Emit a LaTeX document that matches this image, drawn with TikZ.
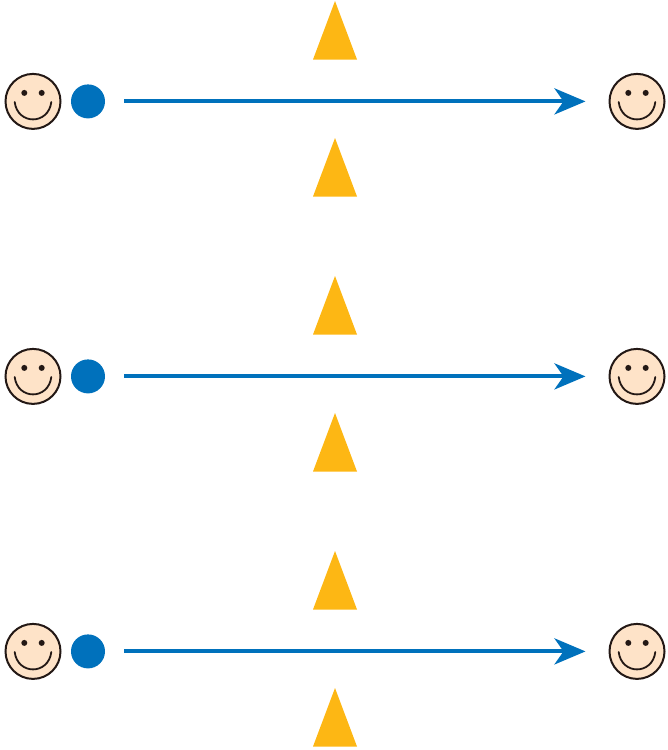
\documentclass[tikz,border=0pt]{standalone}
\usetikzlibrary{arrows.meta,calc}
\definecolor{flowblue}{HTML}{0071BC}
\definecolor{coneyellow}{HTML}{FDB714}
\definecolor{skin}{HTML}{FEE3C8}
\definecolor{inkline}{HTML}{231815}
\tikzset{
  x=1pt,y=-1pt,
  facebox/.style={circle,draw=inkline,fill=skin,line width=2pt,minimum size=55pt,inner sep=0pt,outer sep=0pt},
  dotbox/.style={circle,fill=flowblue,minimum size=34pt,inner sep=0pt,outer sep=0pt},
  flowarrow/.style={draw=flowblue,line width=4pt,shorten <=19pt,shorten >=24pt,
    -{Stealth[length=31pt,width=26pt,inset=9pt,flowblue]}},
  eyedot/.style={fill=inkline},
  smile/.style={draw=inkline,line width=1.8pt,line cap=round},
  cone/.style={fill=coneyellow}
}
\newcommand{\smileface}[3]{%
  \node[facebox] (#1) at (#2,#3) {};
  \fill[eyedot] ($(#1)+(-8.7,-8.5)$) circle (3pt);
  \fill[eyedot] ($(#1)+(8.7,-8.5)$) circle (3pt);
  \draw[smile] ($(#1)+(-18.3,0.6)$) .. controls ($(#1)+(-15.5,23.8)$) and ($(#1)+(15.5,23.8)$) .. ($(#1)+(18.3,0.6)$);
}
\begin{document}
\begin{tikzpicture}
\useasboundingbox (0,0) rectangle (668,750);
\foreach \r/\y in {a/101.4,b/376.4,c/651.4}{
  \smileface{l\r}{33}{\y}
  \smileface{r\r}{637}{\y}
  \node[dotbox] (d\r) at (88,\y) {};
  \draw[flowarrow] (d\r) -- (r\r);
  \fill[cone] (335,\y-100.4) -- (357,\y-41.9) -- (313,\y-41.9) -- cycle;
  \fill[cone] (335,\y+36.6) -- (357,\y+95.1) -- (313,\y+95.1) -- cycle;
}
\end{tikzpicture}
\end{document}
